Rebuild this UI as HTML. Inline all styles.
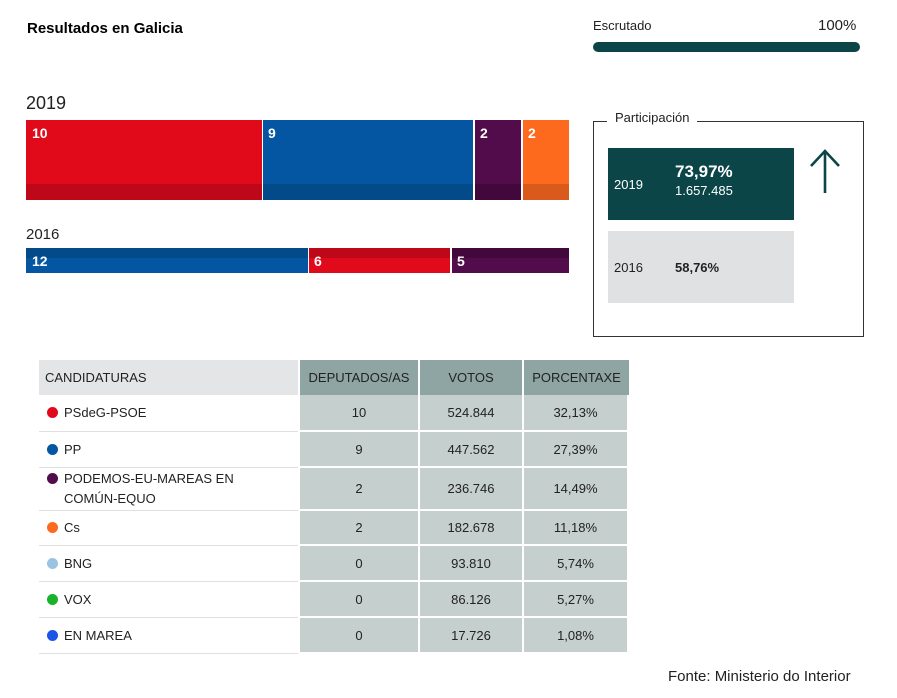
<!DOCTYPE html>
<html><head><meta charset="utf-8"><style>
*{margin:0;padding:0;box-sizing:border-box}
body{width:897px;height:698px;background:#fff;font-family:"Liberation Sans",sans-serif;color:#222;position:relative;overflow:hidden}
.a{position:absolute}
.bt{position:absolute;color:#fff;font-size:14px;font-weight:bold}
td{font-size:13px;color:#222}
.d{display:inline-block;width:11px;height:11px;border-radius:50%;margin-right:6px;vertical-align:-1px}
.n{background:#c5cfcd;text-align:center;border:2px solid #fff;border-top:0}
</style></head><body>
<div class="a" style="left:27px;top:20px;font-size:15px;font-weight:bold;color:#000">Resultados en Galicia</div>
<div class="a" style="left:593px;top:18px;font-size:13px">Escrutado</div>
<div class="a" style="left:818px;top:17px;font-size:15px">100%</div>
<div class="a" style="left:593px;top:42px;width:267px;height:10px;border-radius:5px;background:#0b4548"></div>

<div class="a" style="left:26px;top:93px;font-size:18px">2019</div>
<div class="a" style="left:26px;top:120px;width:236px;height:80px;background:#e00a1b"><div class="a" style="left:0;bottom:0;width:100%;height:16px;background:#be0718"></div><span class="bt" style="left:6px;top:5px">10</span></div>
<div class="a" style="left:263px;top:120px;width:210px;height:80px;background:#0456a3"><div class="a" style="left:0;bottom:0;width:100%;height:16px;background:#034a88"></div><span class="bt" style="left:5px;top:5px">9</span></div>
<div class="a" style="left:475px;top:120px;width:46px;height:80px;background:#520c4b"><div class="a" style="left:0;bottom:0;width:100%;height:16px;background:#42083c"></div><span class="bt" style="left:5px;top:5px">2</span></div>
<div class="a" style="left:523px;top:120px;width:46px;height:80px;background:#fd6a1e"><div class="a" style="left:0;bottom:0;width:100%;height:16px;background:#d95a1a"></div><span class="bt" style="left:5px;top:5px">2</span></div>

<div class="a" style="left:26px;top:226px;font-size:15px">2016</div>
<div class="a" style="left:26px;top:248px;width:282px;height:25px;background:#0456a3"><div class="a" style="left:0;top:0;width:100%;height:10px;background:#034a88"></div><span class="bt" style="left:6px;top:5px">12</span></div>
<div class="a" style="left:309px;top:248px;width:141px;height:25px;background:#e00a1b"><div class="a" style="left:0;top:0;width:100%;height:10px;background:#be0718"></div><span class="bt" style="left:5px;top:5px">6</span></div>
<div class="a" style="left:452px;top:248px;width:117px;height:25px;background:#520c4b"><div class="a" style="left:0;top:0;width:100%;height:10px;background:#42083c"></div><span class="bt" style="left:5px;top:5px">5</span></div>

<div class="a" style="left:593px;top:121px;width:271px;height:216px;border:1px solid #333"></div>
<div class="a" style="left:607px;top:110px;padding:0 8px;background:#fff;font-size:13px">Participación</div>
<div class="a" style="left:608px;top:148px;width:186px;height:72px;background:#0b4548;color:#fff">
<span class="a" style="left:6px;top:29px;font-size:13px">2019</span>
<span class="a" style="left:67px;top:14px;font-size:17px;font-weight:bold">73,97%</span>
<span class="a" style="left:67px;top:35px;font-size:13px">1.657.485</span></div>
<div class="a" style="left:608px;top:231px;width:186px;height:72px;background:#dfe1e2">
<span class="a" style="left:6px;top:29px;font-size:13px">2016</span>
<span class="a" style="left:67px;top:29px;font-size:13px;font-weight:bold">58,76%</span></div>
<svg class="a" style="left:808px;top:148px" width="36" height="46"><path d="M17 45V3M3 18L17 3L31 18" stroke="#0b4548" stroke-width="2.6" fill="none"/></svg>

<table class="a" style="left:39px;top:360px;border-collapse:collapse;width:590px">
<tr style="height:35px"><td style="width:260px;background:#e4e5e6;padding-left:6px;border-right:2px solid #fff">CANDIDATURAS</td>
<td style="width:120px;background:#8fa5a3;text-align:center;border-right:2px solid #fff">DEPUTADOS/AS</td>
<td style="width:104px;background:#8fa5a3;text-align:center;border-right:2px solid #fff">VOTOS</td>
<td style="background:#8fa5a3;text-align:center">PORCENTAXE</td></tr>
</table>
<div class="a" style="left:39px;top:395px;width:590px">
<table style="border-collapse:collapse;width:590px">
<colgroup><col style="width:260px"><col style="width:120px"><col style="width:104px"><col></colgroup>
<tbody>
<tr style="height:36px"><td style="border-bottom:1px solid #e0e0e0;padding-left:8px"><span class="d" style="background:#e00a1b"></span>PSdeG-PSOE</td><td class="n">10</td><td class="n">524.844</td><td class="n">32,13%</td></tr>
<tr style="height:36px"><td style="border-bottom:1px solid #e0e0e0;padding-left:8px"><span class="d" style="background:#0456a3"></span>PP</td><td class="n">9</td><td class="n">447.562</td><td class="n">27,39%</td></tr>
<tr style="height:43px"><td style="border-bottom:1px solid #e0e0e0;padding-left:8px;line-height:20px"><span class="d" style="background:#520c4b"></span>PODEMOS-EU-MAREAS EN<br><span style="padding-left:17px">COMÚN-EQUO</span></td><td class="n">2</td><td class="n">236.746</td><td class="n">14,49%</td></tr>
<tr style="height:35px"><td style="border-bottom:1px solid #e0e0e0;padding-left:8px"><span class="d" style="background:#fd6a1e"></span>Cs</td><td class="n">2</td><td class="n">182.678</td><td class="n">11,18%</td></tr>
<tr style="height:36px"><td style="border-bottom:1px solid #e0e0e0;padding-left:8px"><span class="d" style="background:#9ac3e3"></span>BNG</td><td class="n">0</td><td class="n">93.810</td><td class="n">5,74%</td></tr>
<tr style="height:36px"><td style="border-bottom:1px solid #e0e0e0;padding-left:8px"><span class="d" style="background:#19b22b"></span>VOX</td><td class="n">0</td><td class="n">86.126</td><td class="n">5,27%</td></tr>
<tr style="height:36px"><td style="border-bottom:1px solid #e0e0e0;padding-left:8px"><span class="d" style="background:#1a55e8"></span>EN MAREA</td><td class="n">0</td><td class="n">17.726</td><td class="n">1,08%</td></tr>
</tbody></table></div>
<div class="a" style="left:668px;top:668px;font-size:15px">Fonte: Ministerio do Interior</div>
</body></html>
